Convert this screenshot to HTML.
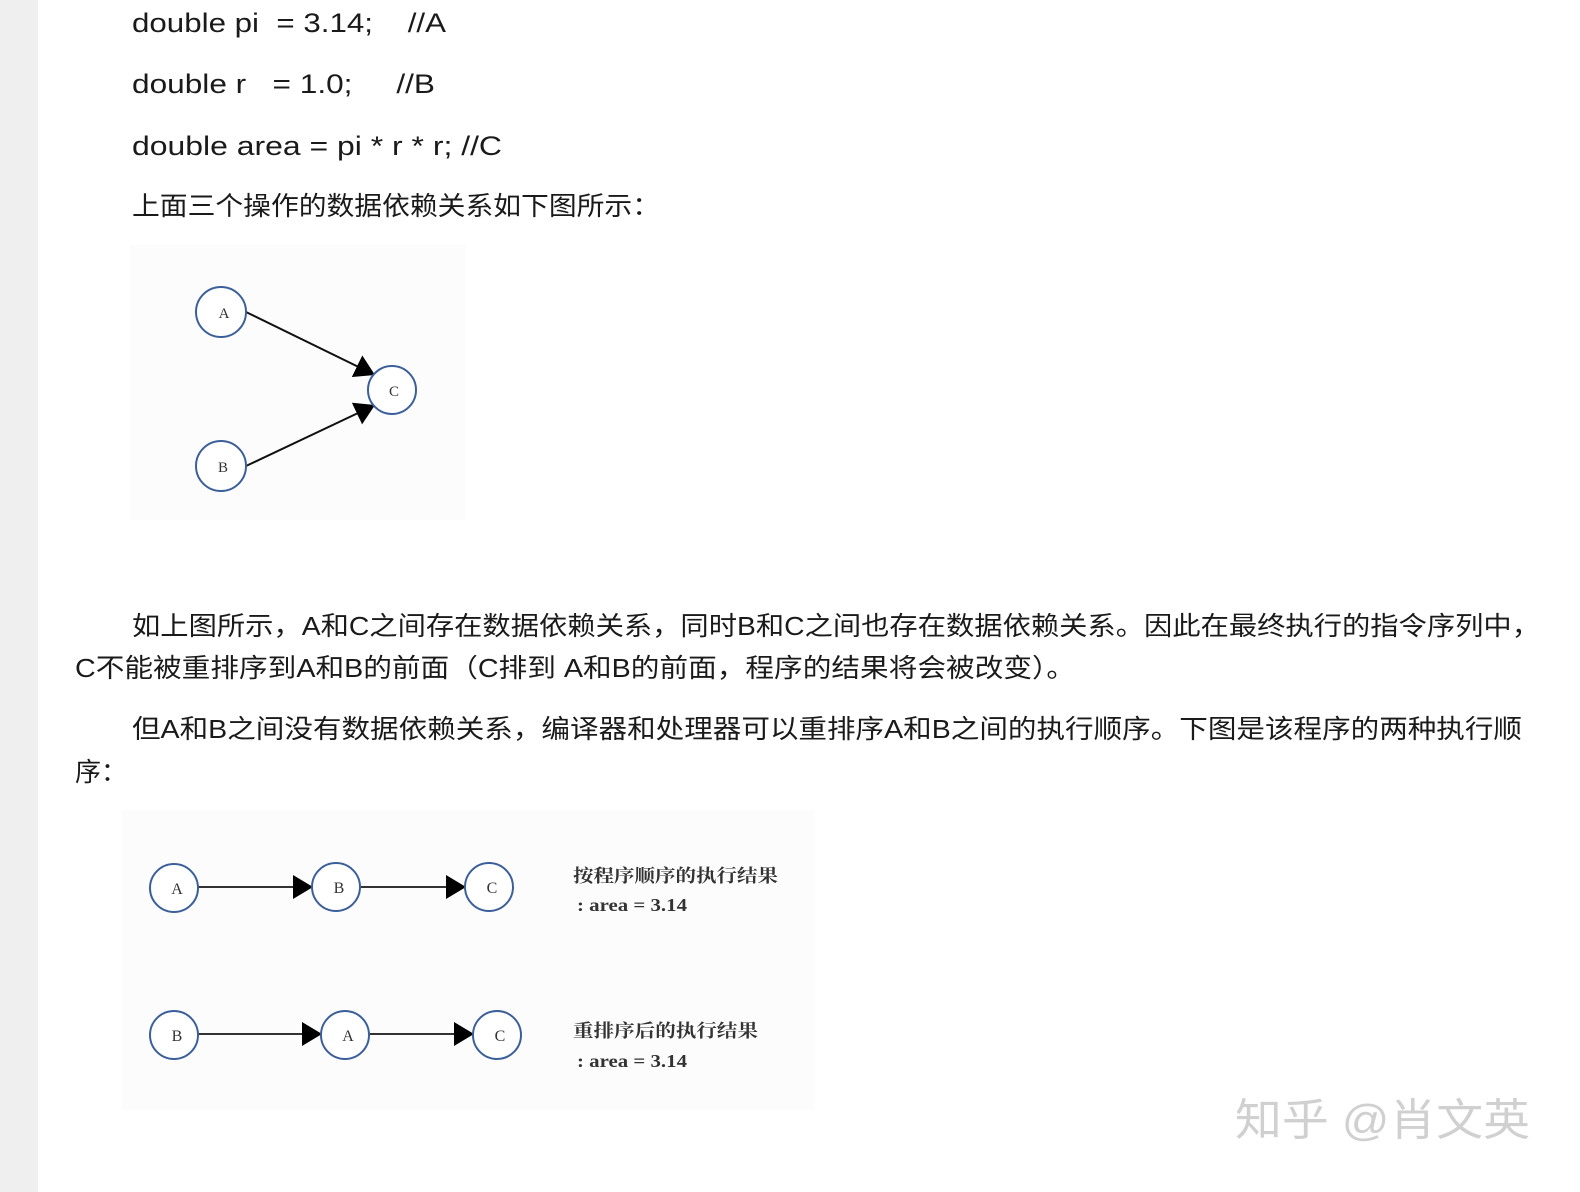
<!DOCTYPE html>
<html><head><meta charset="utf-8"><style>
html,body{margin:0;padding:0;background:#fff;}
svg{display:block;}
text{font-family:"Liberation Sans","Noto Sans CJK SC",sans-serif;fill:#1a1a1a;white-space:pre;}
.s{font-family:"Liberation Serif","Noto Serif CJK SC",serif;fill:#333;}
</style></head><body>
<svg width="1580" height="1192" viewBox="0 0 1580 1192" xmlns="http://www.w3.org/2000/svg" xml:space="preserve">
<defs>
<marker id="ar" viewBox="0 0 10 10" refX="10" refY="5" markerWidth="20" markerHeight="24" orient="auto" markerUnits="userSpaceOnUse" preserveAspectRatio="none"><path d="M0,0 L10,5 L0,10 z" fill="#000"/></marker>
</defs>
<rect x="0" y="0" width="38" height="1192" fill="#efefef"/>
<g font-size="27">
<text x="132" y="32" textLength="314" lengthAdjust="spacingAndGlyphs">double pi  = 3.14;    //A</text>
<text x="132" y="93" textLength="303" lengthAdjust="spacingAndGlyphs">double r   = 1.0;     //B</text>
<text x="132" y="155" textLength="370" lengthAdjust="spacingAndGlyphs">double area = pi * r * r; //C</text>
</g>
<g font-size="26">
<text x="132" y="215" textLength="528" lengthAdjust="spacingAndGlyphs">上面三个操作的数据依赖关系如下图所示：</text>
<text x="132" y="635" textLength="1408" lengthAdjust="spacingAndGlyphs">如上图所示，A和C之间存在数据依赖关系，同时B和C之间也存在数据依赖关系。因此在最终执行的指令序列中，</text>
<text x="75" y="677" textLength="1000" lengthAdjust="spacingAndGlyphs">C不能被重排序到A和B的前面（C排到 A和B的前面，程序的结果将会被改变）。</text>
<text x="132" y="738" textLength="1390" lengthAdjust="spacingAndGlyphs">但A和B之间没有数据依赖关系，编译器和处理器可以重排序A和B之间的执行顺序。下图是该程序的两种执行顺</text>
<text x="75" y="781">序：</text>
</g>
<!-- diagram 1 -->
<rect x="130" y="245" width="336" height="275" fill="#fcfcfc"/>
<g stroke="#111" stroke-width="2" fill="none">
<line x1="246" y1="312" x2="375" y2="375" style="marker-end:url(#ar)"/>
<line x1="246" y1="466" x2="375" y2="405" style="marker-end:url(#ar)"/>
</g>
<g stroke="#3b5f9a" stroke-width="2" fill="#fff">
<circle cx="221" cy="312" r="25"/><circle cx="392" cy="390" r="24"/><circle cx="221" cy="466" r="25"/>
</g>
<g font-size="15" text-anchor="middle">
<text class="s" x="224" y="318">A</text><text class="s" x="394" y="396">C</text><text class="s" x="223" y="472">B</text>
</g>
<!-- diagram 2 -->
<rect x="122" y="810" width="693" height="300" fill="#fcfcfc"/>
<g stroke="#333" stroke-width="2">
<line x1="198" y1="887" x2="313" y2="887" style="marker-end:url(#ar)"/>
<line x1="360" y1="887" x2="466" y2="887" style="marker-end:url(#ar)"/>
<line x1="198" y1="1034" x2="322" y2="1034" style="marker-end:url(#ar)"/>
<line x1="369" y1="1034" x2="474" y2="1034" style="marker-end:url(#ar)"/>
</g>
<g stroke="#3b5f9a" stroke-width="2" fill="#fff">
<circle cx="174" cy="888" r="24"/><circle cx="336" cy="887" r="24"/><circle cx="489" cy="887" r="24"/>
<circle cx="174" cy="1035" r="24"/><circle cx="345" cy="1035" r="24"/><circle cx="497" cy="1035" r="24"/>
</g>
<g font-size="16" text-anchor="middle">
<text class="s" x="177" y="894">A</text><text class="s" x="339" y="893">B</text><text class="s" x="492" y="893">C</text>
<text class="s" x="177" y="1041">B</text><text class="s" x="348" y="1041">A</text><text class="s" x="500" y="1041">C</text>
</g>
<g font-size="18" font-weight="bold">
<text class="s" x="573" y="882" textLength="205" lengthAdjust="spacingAndGlyphs">按程序顺序的执行结果</text>
<text class="s" x="577" y="911" textLength="110" lengthAdjust="spacingAndGlyphs">: area = 3.14</text>
<text class="s" x="573" y="1037" textLength="185" lengthAdjust="spacingAndGlyphs">重排序后的执行结果</text>
<text class="s" x="577" y="1067" textLength="110" lengthAdjust="spacingAndGlyphs">: area = 3.14</text>
</g>
<text x="1235" y="1135" font-size="44" style="fill:#d0d0d0" textLength="295" lengthAdjust="spacingAndGlyphs">知乎 @肖文英</text>
</svg>
</body></html>
